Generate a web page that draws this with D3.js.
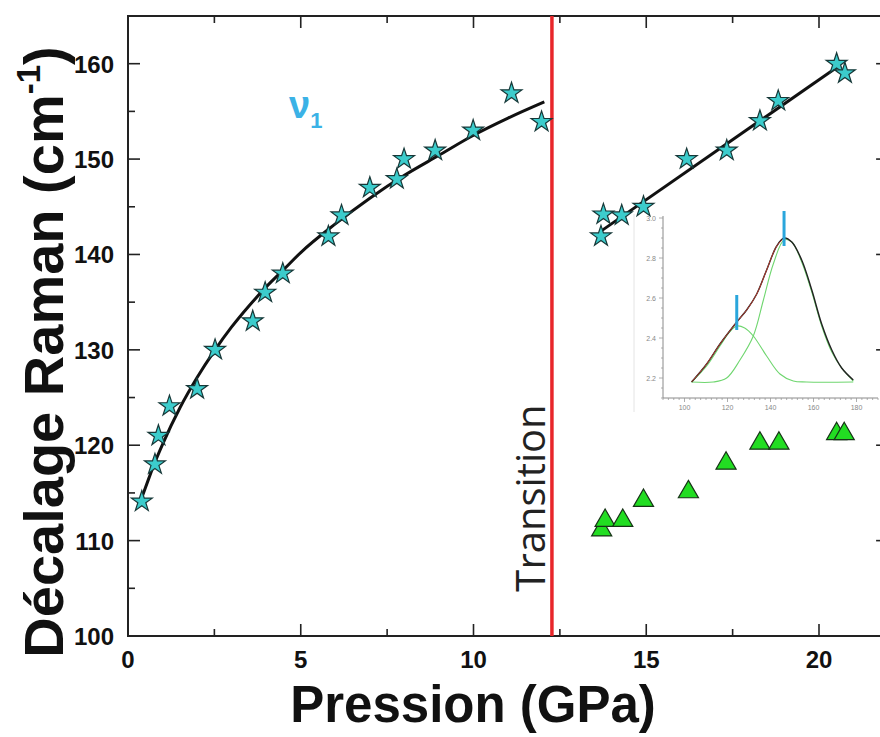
<!DOCTYPE html>
<html><head><meta charset="utf-8">
<script src="https://cdn.jsdelivr.net/npm/d3@7"></script>
<style>html,body{margin:0;padding:0;background:#fff;overflow:hidden}</style>
</head><body>
<svg id="c" width="880" height="737"></svg>
<script>
// ---- data ----
const pressure1 = [0.4, 0.78, 0.88, 1.2, 2.0, 2.52, 3.61, 3.97, 4.48, 5.8, 6.18, 7.0, 7.78, 7.99, 8.89, 9.99, 11.1, 11.97];
const shift1    = [114.1, 118.0, 121.0, 124.1, 125.9, 130.0, 133.0, 136.0, 138.0, 141.9, 144.1, 147.0, 147.9, 150.0, 150.9, 153.0, 156.9, 153.9];
const fitPressure1 = [0.4, 0.6, 0.8, 1.0, 1.5, 2.0, 2.5, 3.0, 3.5, 4.0, 4.5, 5.0, 6.0, 7.0, 8.0, 9.0, 10.0, 11.0, 12.05];
const fitShift1    = [114.5, 116.5, 118.4, 120.1, 123.9, 127.1, 129.9, 132.4, 134.6, 136.6, 138.4, 140.2, 143.2, 145.9, 148.3, 150.4, 152.5, 154.3, 156.0];
const pressure2 = [13.69, 13.76, 14.29, 14.92, 16.17, 17.33, 18.29, 18.82, 20.51, 20.75];
const shift2    = [141.9, 144.2, 144.1, 145.0, 150.0, 150.9, 154.0, 156.1, 160.0, 159.0];
const fitPressure2 = [13.71, 20.51];
const fitShift2    = [142.5, 159.6];
const pressure3 = [13.71, 13.81, 14.32, 14.92, 16.22, 17.31, 18.29, 18.84, 20.51, 20.73];
const shift3    = [111.1, 112.1, 112.1, 114.2, 115.1, 118.1, 120.2, 120.2, 121.2, 121.2];
const transitionPressure = 12.27;
const xTicks = [0, 5, 10, 15, 20];
const yTicks = [100, 110, 120, 130, 140, 150, 160];
// inset spectrum
const insetXTicks = [100, 120, 140, 160, 180];
const insetYTicks = [2.2, 2.4, 2.6, 2.8, 3.0];
const specX   = [103.3, 110.3, 116.5, 124.3, 128.9, 133.6, 138.2, 142.9, 146.3, 149.9, 154.5, 159.2, 163.8, 168.5, 173.1, 178.5];
const specSum = [2.18, 2.27, 2.37, 2.48, 2.54, 2.62, 2.74, 2.86, 2.90, 2.88, 2.79, 2.64, 2.47, 2.34, 2.25, 2.19];
const comp1X = [103.3, 110.3, 116.5, 121.0, 124.3, 128.0, 132.0, 138.2, 144.4, 150.6, 156.8, 178.5];
const comp1Y = [2.18, 2.26, 2.36, 2.43, 2.46, 2.45, 2.41, 2.31, 2.22, 2.185, 2.18, 2.18];
const comp2X = [103.3, 113.4, 119.6, 125.8, 132.0, 136.7, 141.3, 146.3, 149.9, 154.5, 159.2, 163.8, 168.5, 173.1, 178.5];
const comp2Y = [2.18, 2.18, 2.20, 2.29, 2.41, 2.59, 2.77, 2.89, 2.88, 2.78, 2.63, 2.46, 2.33, 2.25, 2.185];
const peakMarks = [124.3, 146.3];
const peakMarkY = [2.48, 2.90];

// ---- drawing ----
const svg = d3.select('#c');
const x = d3.scaleLinear().domain([0, 22]).range([128, 888.1]);
const y = d3.scaleLinear().domain([100, 165]).range([636, 16]);
const font = "'Liberation Sans', Arial, sans-serif";

// frame
svg.append('rect').attr('x', x(0)).attr('y', y(165))
  .attr('width', x(22) - x(0)).attr('height', y(100) - y(165))
  .attr('fill', 'none').attr('stroke', '#222').attr('stroke-width', 2);

// ticks (inward) on all four sides
const xMinor = d3.range(0, 22.01, 2.5);
const yMinor = d3.range(100, 165.01, 5);
const tickG = svg.append('g').attr('stroke', '#222').attr('stroke-width', 1.6);
xMinor.forEach(v => {
  const L = (v % 5 === 0) ? 12 : 7;
  tickG.append('line').attr('x1', x(v)).attr('x2', x(v)).attr('y1', y(100)).attr('y2', y(100) - L);
  tickG.append('line').attr('x1', x(v)).attr('x2', x(v)).attr('y1', y(165)).attr('y2', y(165) + L);
});
yMinor.forEach(v => {
  const L = (v % 10 === 0) ? 12 : 7;
  tickG.append('line').attr('y1', y(v)).attr('y2', y(v)).attr('x1', x(0)).attr('x2', x(0) + L);
  tickG.append('line').attr('y1', y(v)).attr('y2', y(v)).attr('x1', x(22)).attr('x2', x(22) - L);
});

// tick labels
svg.append('g').selectAll('text').data(xTicks).join('text')
  .attr('x', d => x(d)).attr('y', 668).attr('text-anchor', 'middle')
  .attr('font-family', font).attr('font-weight', 'bold').attr('font-size', 24)
  .attr('fill', '#111').text(d => d);
svg.append('g').selectAll('text').data(yTicks).join('text')
  .attr('x', 114).attr('y', d => y(d) + 9).attr('text-anchor', 'end')
  .attr('font-family', font).attr('font-weight', 'bold').attr('font-size', 24)
  .attr('fill', '#111').text(d => d);

// axis titles
svg.append('text').attr('x', 473).attr('y', 722).attr('text-anchor', 'middle')
  .attr('font-family', font).attr('font-weight', 'bold').attr('font-size', 51)
  .attr('fill', '#111').text('Pression (GPa)');
const yt = svg.append('text').attr('transform', 'translate(63,352) rotate(-90)')
  .attr('text-anchor', 'middle').attr('font-family', font).attr('font-weight', 'bold')
  .attr('font-size', 56).attr('fill', '#111');
yt.append('tspan').text('Décalage Raman (cm');
yt.append('tspan').attr('font-size', 33).attr('dy', -23).text('-1');
yt.append('tspan').attr('dy', 23).text(')');

// transition line
svg.append('line').attr('x1', x(transitionPressure)).attr('x2', x(transitionPressure))
  .attr('y1', y(165)).attr('y2', y(100)).attr('stroke', '#e8262a').attr('stroke-width', 3.5);
svg.append('text').attr('transform', `translate(545,498) rotate(-90)`)
  .attr('text-anchor', 'middle').attr('font-family', "'Open Sans', sans-serif")
  .attr('font-size', 40).attr('fill', '#222').text('Transition');

// nu1 label
const nu = svg.append('text').attr('x', 289).attr('y', 118)
  .attr('font-family', font).attr('font-weight', 'bold').attr('fill', '#3bb2e6');
nu.append('tspan').attr('font-size', 38).text('ν');
nu.append('tspan').attr('font-size', 22).attr('dy', 10).text('1');

// ---- inset ----
const ix = d3.scaleLinear().domain([90, 190]).range([663, 878]);
const iy = d3.scaleLinear().domain([2.1, 3.0]).range([398, 218]);
const ig = svg.append('g');
ig.append('line').attr('x1', 634).attr('x2', 634).attr('y1', 214).attr('y2', 412)
  .attr('stroke', '#e4e4e4').attr('stroke-width', 1);
ig.append('line').attr('x1', ix(90)).attr('x2', ix(190)).attr('y1', iy(2.1)).attr('y2', iy(2.1))
  .attr('stroke', '#8a8a8a').attr('stroke-width', 1);
ig.append('line').attr('x1', ix(90)).attr('x2', ix(90)).attr('y1', iy(2.1)).attr('y2', 216)
  .attr('stroke', '#8a8a8a').attr('stroke-width', 1);
d3.range(90, 190.1, 2.5).forEach(v => {
  ig.append('line').attr('x1', ix(v)).attr('x2', ix(v)).attr('y1', iy(2.1))
    .attr('y2', iy(2.1) + (v % 20 === 0 ? 4 : 2)).attr('stroke', '#999').attr('stroke-width', 0.8);
});
d3.range(2.1, 3.01, 0.05).forEach(v => {
  const major = Math.abs(Math.round(v * 10) / 10 - v) < 1e-6 && Math.round(v * 10) % 2 === 0;
  ig.append('line').attr('x1', ix(90)).attr('x2', ix(90) - (major ? 4 : 2))
    .attr('y1', iy(v)).attr('y2', iy(v)).attr('stroke', '#999').attr('stroke-width', 0.8);
});
ig.selectAll('text.ixl').data(insetXTicks).join('text').attr('class', 'ixl')
  .attr('x', d => ix(d)).attr('y', 410).attr('text-anchor', 'middle')
  .attr('font-family', font).attr('font-size', 7).attr('fill', '#888').text(d => d);
ig.selectAll('text.iyl').data(insetYTicks).join('text').attr('class', 'iyl')
  .attr('x', 656).attr('y', d => iy(d) + 2.5).attr('text-anchor', 'end')
  .attr('font-family', font).attr('font-size', 7).attr('fill', '#888').text(d => d.toFixed(1));
const iline = d3.line().x(d => ix(d[0])).y(d => iy(d[1])).curve(d3.curveCatmullRom);
ig.append('path').datum(d3.zip(comp1X, comp1Y)).attr('d', iline)
  .attr('fill', 'none').attr('stroke', '#6fd66f').attr('stroke-width', 1.1);
ig.append('path').datum(d3.zip(comp2X, comp2Y)).attr('d', iline)
  .attr('fill', 'none').attr('stroke', '#6fd66f').attr('stroke-width', 1.1);
ig.append('path').datum(d3.zip(specX, specSum)).attr('d', iline)
  .attr('fill', 'none').attr('stroke', '#222').attr('stroke-width', 1.4);
ig.append('path').datum(d3.zip(specX, specSum).slice(0, 9)).attr('d', iline)
  .attr('fill', 'none').attr('stroke', '#b33a2e').attr('stroke-width', 1);
peakMarks.forEach((p, i) => {
  ig.append('line').attr('x1', ix(p)).attr('x2', ix(p))
    .attr('y1', iy(peakMarkY[i]) - 27).attr('y2', iy(peakMarkY[i]) + 8)
    .attr('stroke', '#2aa6dc').attr('stroke-width', 3);
});

// ---- fits ----
const line = d3.line().x(d => x(d[0])).y(d => y(d[1])).curve(d3.curveMonotoneX);
svg.append('path').datum(d3.zip(fitPressure1, fitShift1)).attr('d', line)
  .attr('fill', 'none').attr('stroke', '#111').attr('stroke-width', 3);
svg.append('path').datum(d3.zip(fitPressure2, fitShift2)).attr('d', line)
  .attr('fill', 'none').attr('stroke', '#111').attr('stroke-width', 3);

// ---- markers ----
const star = d3.symbol().type(d3.symbolStar).size(135);
const tri = d3.symbol().type(d3.symbolTriangle).size(175);
svg.append('g').selectAll('path').data(d3.zip(pressure1, shift1).concat(d3.zip(pressure2, shift2))).join('path')
  .attr('d', star).attr('transform', d => `translate(${x(d[0])},${y(d[1])})`)
  .attr('fill', '#3ccccc').attr('stroke', '#173838').attr('stroke-width', 1.2);
svg.append('g').selectAll('path').data(d3.zip(pressure3, shift3)).join('path')
  .attr('d', tri).attr('transform', d => `translate(${x(d[0])},${y(d[1])})`)
  .attr('fill', '#22dd22').attr('stroke', '#173317').attr('stroke-width', 1.2);
</script>
</body></html>
